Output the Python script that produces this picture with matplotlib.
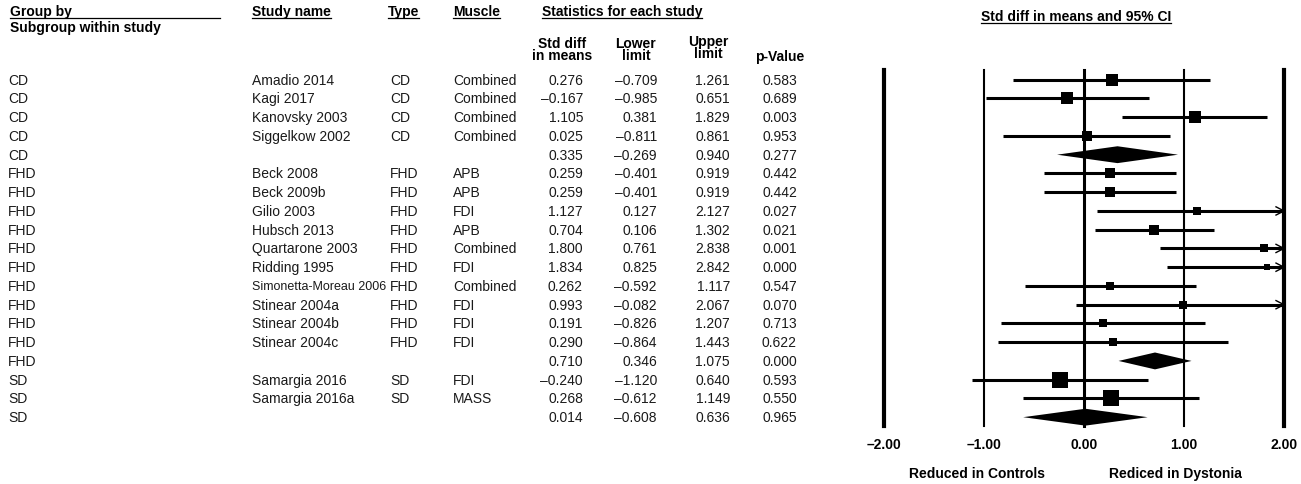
#!/usr/bin/env python

import numpy as np
import matplotlib.pyplot as plt
from matplotlib.lines import Line2D
from matplotlib.transforms import blended_transform_factory

plt.rcParams.update({'font.family': ['Liberation Sans', 'DejaVu Sans'], 'font.size': 10})

groups = ['CD'] * 5 + ['FHD'] * 11 + ['SD'] * 3
studies = ['Amadio 2014', 'Kagi 2017', 'Kanovsky 2003', 'Siggelkow 2002', '',
           'Beck 2008', 'Beck 2009b', 'Gilio 2003', 'Hubsch 2013', 'Quartarone 2003',
           'Ridding 1995', 'Simonetta-Moreau 2006', 'Stinear 2004a', 'Stinear 2004b',
           'Stinear 2004c', '',
           'Samargia 2016', 'Samargia 2016a', '']
types = ['CD', 'CD', 'CD', 'CD', '',
         'FHD', 'FHD', 'FHD', 'FHD', 'FHD', 'FHD', 'FHD', 'FHD', 'FHD', 'FHD', '',
         'SD', 'SD', '']
muscles = ['Combined', 'Combined', 'Combined', 'Combined', '',
           'APB', 'APB', 'FDI', 'APB', 'Combined', 'FDI', 'Combined', 'FDI', 'FDI', 'FDI', '',
           'FDI', 'MASS', '']
smd = [0.276, -0.167, 1.105, 0.025, 0.335,
       0.259, 0.259, 1.127, 0.704, 1.800, 1.834, 0.262, 0.993, 0.191, 0.290, 0.710,
       -0.240, 0.268, 0.014]
lower = [-0.709, -0.985, 0.381, -0.811, -0.269,
         -0.401, -0.401, 0.127, 0.106, 0.761, 0.825, -0.592, -0.082, -0.826, -0.864, 0.346,
         -1.120, -0.612, -0.608]
upper = [1.261, 0.651, 1.829, 0.861, 0.940,
         0.919, 0.919, 2.127, 1.302, 2.838, 2.842, 1.117, 2.067, 1.207, 1.443, 1.075,
         0.640, 1.149, 0.636]
pvals = [0.583, 0.689, 0.003, 0.953, 0.277,
         0.442, 0.442, 0.027, 0.021, 0.001, 0.000, 0.547, 0.070, 0.713, 0.622, 0.000,
         0.593, 0.550, 0.965]
# relative weights of the single studies (None for the subgroup summaries)
rel_weight = [22.3, 22.3, 29.7, 21.1, None,
              18.4, 18.4, 10.9, 17.3, 11.8, 9.0, 12.7, 10.9, 11.8, 9.8, None,
              50.5, 49.5, None]
axis_ticks = [-2, -1, 0, 1, 2]

W, H = 1301, 485
TXT = '#1a1a1a'


def fmt(v, nd=3):
    s = f'{abs(v):.{nd}f}'
    return ('\u2013' + s) if v < 0 else s


def fx(px):
    return px / W


def fy(py):
    return 1 - py / H


fig = plt.figure(figsize=(W / 100, H / 100), dpi=100)
ax = fig.add_axes([fx(884), fy(427), 400 / W, 356 / H])
ax.set_xlim(-2, 2)
ax.set_ylim(18.47, -0.517)
for s in ax.spines.values():
    s.set_visible(False)
ax.set_yticks([])
ax.set_xticks(axis_ticks, labels=[fmt(t, 2) for t in axis_ticks], fontweight='bold')
ax.tick_params(axis='x', length=0, pad=8)

# reference lines
for t in axis_ticks:
    lw = 3 if abs(t) == 2 else (2.2 if t == 0 else 1.5)
    ax.axvline(t, color='black', lw=lw, clip_on=False)

rows = np.arange(len(studies))
for i, y in enumerate(rows):
    lo, hi, est = lower[i], upper[i], smd[i]
    if rel_weight[i] is None:
        h = 0.45
        ax.fill([lo, est, hi, est], [y, y - h, y, y + h], color='black', lw=0)
        continue
    ax.plot([max(lo, -2), min(hi, 2)], [y, y], color='black', lw=2.2,
            solid_capstyle='butt', clip_on=False, zorder=3)
    side_px = 2.33 * np.sqrt(rel_weight[i])
    ax.plot(est, y, marker='s', ms=side_px * 0.72, color='black', mew=0, zorder=4)
    if hi > 2:
        ax.plot([2 - 0.08, 2, 2 - 0.08], [y - 0.22, y, y + 0.22], color='black',
                lw=1.0, clip_on=False, zorder=4)

# table columns
tr = blended_transform_factory(fig.transFigure, ax.transData)
for i, y in enumerate(rows):
    name_size = 9 if len(studies[i]) > 18 else 10
    fig.text(fx(8), y, groups[i], transform=tr, va='center', color=TXT)
    fig.text(fx(252), y, studies[i], transform=tr, va='center', color=TXT, fontsize=name_size)
    fig.text(fx(390), y, types[i], transform=tr, va='center', color=TXT)
    fig.text(fx(453), y, muscles[i], transform=tr, va='center', color=TXT)
    fig.text(fx(583), y, fmt(smd[i]), transform=tr, va='center', ha='right', color=TXT)
    fig.text(fx(657), y, fmt(lower[i]), transform=tr, va='center', ha='right', color=TXT)
    fig.text(fx(730), y, fmt(upper[i]), transform=tr, va='center', ha='right', color=TXT)
    fig.text(fx(797), y, fmt(pvals[i]), transform=tr, va='center', ha='right', color=TXT)

# headers
hk = dict(fontweight='bold', color='black', va='center')
underlined = []
underlined.append((fig.text(fx(10), fy(12), 'Group by', **hk), 220))
fig.text(fx(10), fy(28), 'Subgroup within study', **hk)
underlined.append((fig.text(fx(252), fy(12), 'Study name', **hk), None))
underlined.append((fig.text(fx(388), fy(12), 'Type', **hk), None))
underlined.append((fig.text(fx(453), fy(12), 'Muscle', **hk), None))
underlined.append((fig.text(fx(622), fy(12), 'Statistics for each study', ha='center', **hk), None))
underlined.append((fig.text(fx(1076), fy(17), 'Std diff in means and 95% CI', ha='center', **hk), None))
fig.text(fx(562), fy(50), 'Std diff\nin means', ha='center', linespacing=0.9, **hk)
fig.text(fx(636), fy(50), 'Lower\nlimit', ha='center', linespacing=0.9, **hk)
fig.text(fx(708), fy(48), 'Upper\nlimit', ha='center', linespacing=0.9, **hk)
fig.text(fx(780), fy(57), 'p-Value', ha='center', **hk)
fig.text(fx(977), fy(474), 'Reduced in Controls', ha='center', **hk)
fig.text(fx(1175), fy(474), 'Rediced in Dystonia', ha='center', **hk)

fig.canvas.draw()
r = fig.canvas.get_renderer()
for t, x_end in underlined:
    bb = t.get_window_extent(r)
    x1 = bb.x1 if x_end is None else x_end
    yl = bb.y0 + 0.5
    fig.add_artist(Line2D([fx(bb.x0), fx(x1)], [yl / H, yl / H], color='black', lw=0.9,
                          transform=fig.transFigure))

plt.savefig('out.png', dpi=100)
plt.close()
